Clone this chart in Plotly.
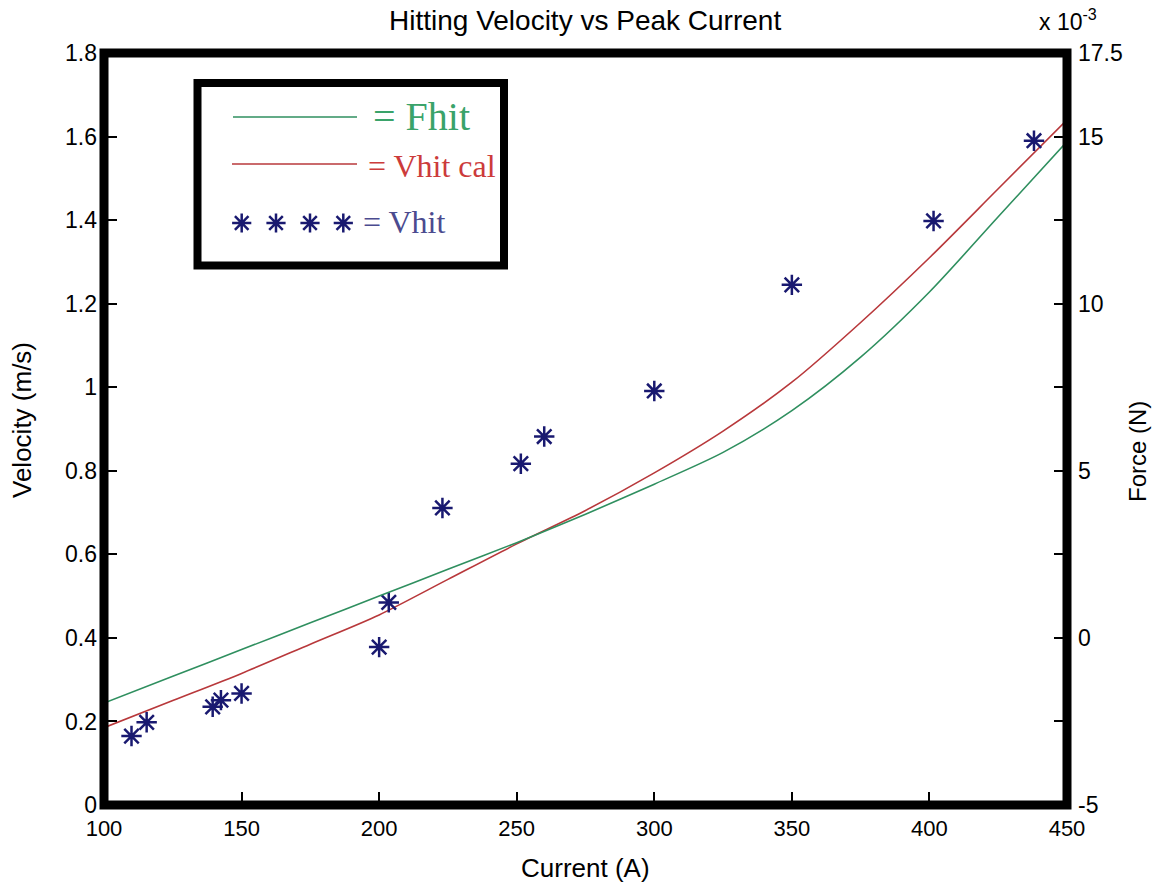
import plotly.graph_objects as go

# ---------------- data ----------------
current_meas = [110, 115.5, 139.5, 142.5, 150, 200, 203.5, 223, 251.5, 260, 300, 350, 401.5, 438]
vhit_meas = [0.165, 0.198, 0.235, 0.251, 0.267, 0.378, 0.485, 0.711, 0.817, 0.882, 0.991, 1.245, 1.398, 1.59]

current_grid = [100, 125, 150, 175, 200, 225, 250, 275, 300, 325, 350, 375, 400, 425, 450]
vhit_cal = [0.185, 0.25, 0.315, 0.385, 0.455, 0.54, 0.625, 0.705, 0.795, 0.895, 1.012, 1.155, 1.31, 1.475, 1.64]
fhit_e3 = [-1.95, -1.15, -0.35, 0.45, 1.25, 2.05, 2.85, 3.7, 4.6, 5.55, 6.8, 8.4, 10.35, 12.6, 14.85]  # x 10^-3 N

x_ticks = [100, 150, 200, 250, 300, 350, 400, 450]
y_ticks = [0, 0.2, 0.4, 0.6, 0.8, 1, 1.2, 1.4, 1.6, 1.8]
y_ticktext = ["0", "0.2", "0.4", "0.6", "0.8", "1", "1.2", "1.4", "1.6", "1.8"]
y2_ticks = [-5, 0, 5, 10, 15, 17.5]
y2_ticktext = ["-5", "0", "5", "10", "15", "17.5"]

# ---------------- layout geometry ----------------
W, H = 1154, 892
L, R, T, B = 104, 87, 53, 87
PW, PH = W - L - R, H - T - B

def px(p):
    return (p - L) / PW

def py(p):
    return (H - B - p) / PH

GREEN = "#2f8f5f"
RED = "#b8383b"
NAVY = "#191970"
FONT = "Liberation Sans, Arial, sans-serif"
SERIF = "Liberation Serif, Times New Roman, serif"

fig = go.Figure()

fig.add_trace(go.Scatter(x=current_grid, y=fhit_e3, mode="lines", yaxis="y2",
                         line=dict(color=GREEN, width=1.6, shape="spline", smoothing=0.8),
                         name="Fhit", showlegend=False))
fig.add_trace(go.Scatter(x=current_grid, y=vhit_cal, mode="lines",
                         line=dict(color=RED, width=1.6, shape="spline", smoothing=0.8),
                         name="Vhit cal", showlegend=False))
fig.add_trace(go.Scatter(x=current_meas, y=vhit_meas, mode="markers",
                         marker=dict(symbol="asterisk-open", size=17, color=NAVY,
                                     line=dict(color=NAVY, width=2.5)),
                         name="Vhit", showlegend=False))

# legend sample stars (decoration) on a hidden paper-like axis
legend_star_px = [241.7, 276, 310, 343.3]
fig.add_trace(go.Scatter(x=[px(p) for p in legend_star_px], y=[py(223)] * 4, mode="markers",
                         xaxis="x3", yaxis="y3",
                         marker=dict(symbol="asterisk-open", size=16, color=NAVY,
                                     line=dict(color=NAVY, width=2.5)),
                         showlegend=False, hoverinfo="skip"))

tickfont = dict(family=FONT, size=23, color="black")

fig.update_layout(
    width=W, height=H, autosize=False,
    margin=dict(l=L, r=R, t=T, b=B, pad=0),
    paper_bgcolor="white", plot_bgcolor="white",
    showlegend=False,
    xaxis=dict(range=[100, 450], tickvals=x_ticks, ticktext=[str(v) for v in x_ticks],
               ticks="inside", ticklen=13, tickwidth=2, tickcolor="black",
               showgrid=False, zeroline=False, showline=False,
               tickfont=dict(family=FONT, size=22, color="black"), ticklabelstandoff=8),
    yaxis=dict(range=[0, 1.8], tickvals=y_ticks, ticktext=y_ticktext,
               ticks="inside", ticklen=13, tickwidth=2, tickcolor="black",
               showgrid=False, zeroline=False, showline=False,
               tickfont=tickfont, ticklabelstandoff=6),
    yaxis2=dict(range=[-5, 17.5], overlaying="y", side="right",
                tickvals=y2_ticks, ticktext=y2_ticktext,
                ticks="inside", ticklen=13, tickwidth=2, tickcolor="black",
                minor=dict(tick0=-5, dtick=2.5, ticks="inside", ticklen=13, tickwidth=2,
                           tickcolor="black", showgrid=False),
                showgrid=False, zeroline=False, showline=False,
                tickfont=tickfont, ticklabelstandoff=10),
    xaxis3=dict(range=[0, 1], overlaying="x", visible=False, fixedrange=True),
    yaxis3=dict(range=[0, 1], overlaying="y", visible=False, fixedrange=True),
)

shapes = [
    # legend box
    dict(type="rect", xref="paper", yref="paper", x0=px(197.5), x1=px(504), y0=py(265.5), y1=py(83),
         line=dict(color="black", width=8), fillcolor="white", layer="below"),
    dict(type="line", xref="paper", yref="paper", x0=px(233), x1=px(357), y0=py(117), y1=py(117),
         line=dict(color=GREEN, width=1.6), layer="above"),
    dict(type="line", xref="paper", yref="paper", x0=px(232), x1=px(357), y0=py(164), y1=py(164),
         line=dict(color=RED, width=1.6), layer="above"),
    # axes frame
    dict(type="rect", xref="paper", yref="paper", x0=0, x1=1, y0=0, y1=1,
         line=dict(color="black", width=9), layer="above"),
]
fig.update_layout(shapes=shapes)

ann = [
    dict(text="Hitting Velocity vs Peak Current", x=px(585), y=py(21), xref="paper", yref="paper",
         xanchor="center", yanchor="middle", showarrow=False, font=dict(family=FONT, size=28, color="black")),
    dict(text="Current (A)", x=px(585), y=py(868), xref="paper", yref="paper",
         xanchor="center", yanchor="middle", showarrow=False, font=dict(family=FONT, size=26, color="black")),
    dict(text="Velocity (m/s)", x=px(22), y=py(420), xref="paper", yref="paper", textangle=-90,
         xanchor="center", yanchor="middle", showarrow=False, font=dict(family=FONT, size=26, color="black")),
    dict(text="Force (N)", x=px(1137), y=py(452), xref="paper", yref="paper", textangle=-90,
         xanchor="center", yanchor="middle", showarrow=False, font=dict(family=FONT, size=24, color="black")),
    dict(text="x 10<sup>-3</sup>", x=px(1068), y=py(20), xref="paper", yref="paper",
         xanchor="center", yanchor="middle", showarrow=False, font=dict(family=FONT, size=23, color="black")),
    dict(text="= Fhit", x=px(371), y=py(116), xref="paper", yref="paper",
         xanchor="left", yanchor="middle", showarrow=False, font=dict(family=SERIF, size=40, color="#3aa36a")),
    dict(text="= Vhit cal", x=px(366), y=py(166), xref="paper", yref="paper",
         xanchor="left", yanchor="middle", showarrow=False, font=dict(family=SERIF, size=32, color="#cc3b3b")),
    dict(text="= Vhit", x=px(361), y=py(222), xref="paper", yref="paper",
         xanchor="left", yanchor="middle", showarrow=False, font=dict(family=SERIF, size=32, color="#4b4b8f")),
]
fig.update_layout(annotations=ann)

fig.write_html("out.html")
